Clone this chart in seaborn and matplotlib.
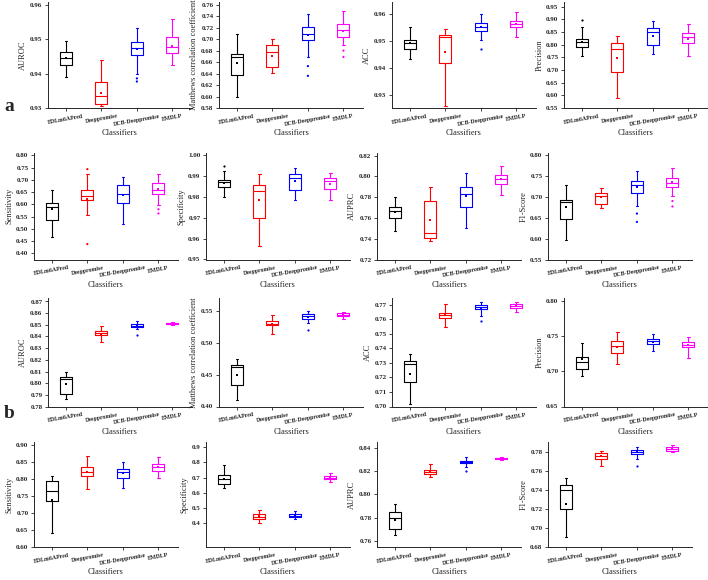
import matplotlib
matplotlib.use("Agg")
import matplotlib.pyplot as plt
from matplotlib.ticker import FormatStrFormatter
import numpy as np
import pandas as pd
import seaborn as sns

CLASSIFIERS = ["EDLm6APred", "Deeppromise", "DCB-Deeppromise", "EMDLP"]
COLORS = ["#000000", "#ff0000", "#0000ff", "#ff00ff"]

# each box: [lower whisker, Q1, median, Q3, upper whisker]
# ---- a ----
a_auroc = [[0.9390, 0.9424, 0.9446, 0.9462, 0.9496],
           [0.9307, 0.9312, 0.9336, 0.9375, 0.9440],
           [0.9398, 0.9455, 0.9474, 0.9492, 0.9532],
           [0.9426, 0.9460, 0.9477, 0.9505, 0.9558]]
a_auroc_mean = [0.9445, 0.9345, 0.9470, 0.9480]
a_auroc_out = [[], [], [0.9386, 0.9377], []]

a_mcc = [[0.599, 0.637, 0.668, 0.674, 0.709],
         [0.641, 0.652, 0.678, 0.689, 0.700],
         [0.669, 0.698, 0.709, 0.722, 0.744],
         [0.690, 0.704, 0.716, 0.726, 0.749]]
a_mcc_mean = [0.659, 0.670, 0.707, 0.714]
a_mcc_out = [[], [], [0.653, 0.636], [0.680, 0.669]]

a_acc = [[0.9433, 0.9473, 0.9495, 0.9506, 0.9554],
         [0.9259, 0.9420, 0.9516, 0.9523, 0.9545],
         [0.9504, 0.9538, 0.9554, 0.9569, 0.9601],
         [0.9517, 0.9552, 0.9563, 0.9576, 0.9609]]
a_acc_mean = [0.9495, 0.9460, 0.9552, 0.9563]
a_acc_out = [[], [], [0.9473], []]

a_prec = [[0.754, 0.791, 0.810, 0.822, 0.870],
          [0.588, 0.691, 0.783, 0.807, 0.835],
          [0.764, 0.800, 0.849, 0.866, 0.895],
          [0.757, 0.807, 0.829, 0.846, 0.882]]
a_prec_mean = [0.809, 0.747, 0.835, 0.824]
a_prec_out = [[0.896], [], [], []]

a_sens = [[0.465, 0.536, 0.590, 0.607, 0.660],
          [0.556, 0.617, 0.633, 0.660, 0.723],
          [0.518, 0.607, 0.644, 0.678, 0.712],
          [0.597, 0.644, 0.660, 0.689, 0.723]]
a_sens_mean = [0.583, 0.624, 0.640, 0.664]
a_sens_out = [[], [0.744, 0.438], [], [0.580, 0.563]]

a_spec = [[0.9798, 0.9847, 0.9869, 0.9879, 0.9926],
          [0.9563, 0.9697, 0.9827, 0.9855, 0.9910],
          [0.9787, 0.9831, 0.9890, 0.9908, 0.9937],
          [0.9787, 0.9838, 0.9874, 0.9890, 0.9916]]
a_spec_mean = [0.9866, 0.9787, 0.9877, 0.9863]
a_spec_out = [[0.9948], [], [], []]

a_auprc = [[0.7475, 0.7602, 0.7663, 0.7705, 0.7800],
           [0.7376, 0.7411, 0.7459, 0.7762, 0.7900],
           [0.7507, 0.7705, 0.7833, 0.7900, 0.8034],
           [0.7823, 0.7928, 0.7970, 0.8018, 0.8104]]
a_auprc_mean = [0.7657, 0.7580, 0.7807, 0.7970]
a_auprc_out = [[], [], [], []]

a_f1 = [[0.597, 0.646, 0.688, 0.693, 0.728],
        [0.674, 0.684, 0.701, 0.710, 0.722],
        [0.677, 0.710, 0.728, 0.738, 0.762],
        [0.701, 0.724, 0.734, 0.744, 0.768]]
a_f1_mean = [0.676, 0.700, 0.724, 0.736]
a_f1_out = [[], [], [0.660, 0.640], [0.690, 0.677]]

# ---- b ----
b_auroc = [[0.7866, 0.7906, 0.8034, 0.8049, 0.8100],
           [0.8349, 0.8409, 0.8429, 0.8443, 0.8486],
           [0.8463, 0.8480, 0.8494, 0.8509, 0.8529],
           [0.8500, 0.8506, 0.8511, 0.8517, 0.8526]]
b_auroc_mean = [0.7991, 0.8425, 0.8490, 0.8511]
b_auroc_out = [[], [], [0.8414], []]

b_mcc = [[0.410, 0.433, 0.462, 0.465, 0.475],
         [0.514, 0.527, 0.530, 0.534, 0.544],
         [0.531, 0.537, 0.542, 0.545, 0.550],
         [0.537, 0.542, 0.544, 0.546, 0.548]]
b_mcc_mean = [0.450, 0.530, 0.540, 0.544]
b_mcc_out = [[], [], [0.520], []]

b_acc = [[0.7018, 0.7168, 0.7294, 0.7317, 0.7363],
         [0.7551, 0.7608, 0.7629, 0.7643, 0.7705],
         [0.7624, 0.7670, 0.7684, 0.7698, 0.7723],
         [0.7654, 0.7677, 0.7693, 0.7705, 0.7723]]
b_acc_mean = [0.7225, 0.7628, 0.7682, 0.7692]
b_acc_out = [[], [], [0.7592], []]

b_prec = [[0.694, 0.704, 0.713, 0.721, 0.741],
          [0.711, 0.727, 0.737, 0.743, 0.757],
          [0.729, 0.739, 0.743, 0.746, 0.754],
          [0.720, 0.735, 0.738, 0.742, 0.750]]
b_prec_mean = [0.718, 0.735, 0.742, 0.738]
b_prec_out = [[], [], [], []]

b_sens = [[0.640, 0.735, 0.765, 0.795, 0.810],
          [0.770, 0.810, 0.820, 0.835, 0.870],
          [0.775, 0.805, 0.820, 0.830, 0.850],
          [0.805, 0.825, 0.835, 0.845, 0.865]]
b_sens_mean = [0.740, 0.822, 0.818, 0.836]
b_sens_out = [[], [], [], []]

b_spec = [[0.630, 0.660, 0.690, 0.720, 0.780],
          [0.400, 0.430, 0.440, 0.460, 0.490],
          [0.430, 0.440, 0.450, 0.460, 0.480],
          [0.670, 0.690, 0.700, 0.710, 0.730]]
b_spec_mean = [0.690, 0.445, 0.450, 0.700]
b_spec_out = [[], [], [], []]

b_auprc = [[0.765, 0.770, 0.780, 0.785, 0.792],
           [0.815, 0.818, 0.819, 0.821, 0.826],
           [0.824, 0.827, 0.828, 0.829, 0.832],
           [0.830, 0.8305, 0.831, 0.8315, 0.832]]
b_auprc_mean = [0.778, 0.819, 0.828, 0.831]
b_auprc_out = [[], [], [0.820], []]

b_f1 = [[0.690, 0.720, 0.740, 0.745, 0.752],
        [0.765, 0.772, 0.775, 0.778, 0.781],
        [0.772, 0.777, 0.780, 0.782, 0.785],
        [0.779, 0.781, 0.783, 0.785, 0.787]]
b_f1_mean = [0.725, 0.775, 0.779, 0.783]
b_f1_out = [[], [], [0.765], []]

sns.set_style("ticks")
plt.rcParams["font.family"] = ["Liberation Serif", "DejaVu Serif"]

W, H = 708, 580
fig = plt.figure(figsize=(W / 100, H / 100), dpi=100)

PAL = dict(zip(CLASSIFIERS, COLORS))


def long_frame(groups):
    rows = [(c, v) for c, vals in zip(CLASSIFIERS, groups) for v in vals]
    return pd.DataFrame(rows, columns=["clf", "val"])


def draw_panel(rect, boxes, means, outliers, ylabel, ylim, ticks, fmt):
    l, top, w, bot = rect
    ax = fig.add_axes([l / W, 1 - bot / H, w / W, (bot - top) / H])
    sns.boxplot(data=long_frame(boxes), x="clf", y="val", hue="clf",
                order=CLASSIFIERS, hue_order=CLASSIFIERS, palette=PAL,
                fill=False, whis=(0, 100), width=0.34, linewidth=0.8,
                showfliers=False, saturation=1, legend=False, ax=ax,
                capwidths=0.07)
    mean_df = pd.DataFrame({"clf": CLASSIFIERS, "val": means})
    sns.stripplot(data=mean_df, x="clf", y="val", hue="clf", order=CLASSIFIERS,
                  hue_order=CLASSIFIERS, palette=PAL, jitter=False, size=1.6,
                  marker="s", linewidth=0, legend=False, ax=ax)
    out_df = long_frame(outliers)
    if len(out_df):
        sns.stripplot(data=out_df, x="clf", y="val", hue="clf", order=CLASSIFIERS,
                      hue_order=CLASSIFIERS, palette=PAL, jitter=False, size=1.6,
                      linewidth=0, legend=False, ax=ax)
    ax.set_xlim(-0.5, 3.55)
    ax.set_ylim(*ylim)
    ax.set_yticks(ticks)
    ax.yaxis.set_major_formatter(FormatStrFormatter(fmt))
    ax.set_xticks(range(4))
    ax.set_xticklabels(CLASSIFIERS, rotation=10, fontsize=4.2, fontweight="bold")
    for t in ax.get_yticklabels():
        t.set_fontsize(5)
        t.set_fontweight("bold")
    ax.tick_params(axis="both", length=2.5, width=0.6, pad=1.5)
    ax.set_ylabel(ylabel, fontsize=6, labelpad=2)
    ax.set_xlabel("Classifiers", fontsize=6, labelpad=2)
    sns.despine(ax=ax)
    for s in ax.spines.values():
        s.set_linewidth(0.7)
    return ax


# rows: (top px, bottom px), column lefts in px
ROW1, ROW2, ROW3, ROW4 = (2, 108), (153, 259.5), (298, 406.5), (442, 547)
LEFT_A = [48, 219, 392, 564]
LEFT_B = [34, 206, 377, 548]
AW = 144

panels = [
    (LEFT_A[0], ROW1, a_auroc, a_auroc_mean, a_auroc_out, "AUROC", (0.93, 0.9608), np.arange(0.93, 0.9601, 0.01), "%.2f"),
    (LEFT_A[1], ROW1, a_mcc, a_mcc_mean, a_mcc_out, "Matthews correlation coefficient", (0.58, 0.7647), np.arange(0.58, 0.7601, 0.02), "%.2f"),
    (LEFT_A[2], ROW1, a_acc, a_acc_mean, a_acc_out, "ACC", (0.9252, 0.9646), np.arange(0.93, 0.9601, 0.01), "%.2f"),
    (LEFT_A[3], ROW1, a_prec, a_prec_mean, a_prec_out, "Precision", (0.55, 0.968), np.arange(0.55, 0.9501, 0.05), "%.2f"),
    (LEFT_B[0], ROW2, a_sens, a_sens_mean, a_sens_out, "Sensitivity", (0.375, 0.81), np.arange(0.40, 0.8001, 0.05), "%.2f"),
    (LEFT_B[1], ROW2, a_spec, a_spec_mean, a_spec_out, "Specificity", (0.95, 1.001), np.arange(0.95, 1.0001, 0.01), "%.2f"),
    (LEFT_B[2], ROW2, a_auprc, a_auprc_mean, a_auprc_out, "AUPRC", (0.72, 0.8225), np.arange(0.72, 0.8201, 0.02), "%.2f"),
    (LEFT_B[3], ROW2, a_f1, a_f1_mean, a_f1_out, "F1-Score", (0.55, 0.805), np.arange(0.55, 0.8001, 0.05), "%.2f"),
    (LEFT_A[0], ROW3, b_auroc, b_auroc_mean, b_auroc_out, "AUROC", (0.78, 0.873), np.arange(0.78, 0.8701, 0.01), "%.2f"),
    (LEFT_A[1], ROW3, b_mcc, b_mcc_mean, b_mcc_out, "Matthews correlation coefficient", (0.40, 0.570), np.arange(0.40, 0.5501, 0.05), "%.2f"),
    (LEFT_A[2], ROW3, b_acc, b_acc_mean, b_acc_out, "ACC", (0.70, 0.7748), np.arange(0.70, 0.7701, 0.01), "%.2f"),
    (LEFT_A[3], ROW3, b_prec, b_prec_mean, b_prec_out, "Precision", (0.65, 0.805), np.arange(0.65, 0.8001, 0.05), "%.2f"),
    (LEFT_B[0], ROW4, b_sens, b_sens_mean, b_sens_out, "Sensitivity", (0.60, 0.91), np.arange(0.60, 0.9001, 0.05), "%.2f"),
    (LEFT_B[1], ROW4, b_spec, b_spec_mean, b_spec_out, "Specificity", (0.245, 0.933), np.arange(0.4, 0.9001, 0.1), "%.1f"),
    (LEFT_B[2], ROW4, b_auprc, b_auprc_mean, b_auprc_out, "AUPRC", (0.755, 0.845), np.arange(0.76, 0.8401, 0.02), "%.2f"),
    (LEFT_B[3], ROW4, b_f1, b_f1_mean, b_f1_out, "F1-Score", (0.68, 0.79), np.arange(0.68, 0.7801, 0.02), "%.2f"),
]

for left, (top, bot), boxes, means, outs, lab, ylim, ticks, fmt in panels:
    draw_panel((left, top, AW, bot), boxes, means, outs, lab, ylim, ticks, fmt)

fig.text(4 / W, 1 - 111 / H, "a", fontsize=14, fontweight="bold")
fig.text(4 / W, 1 - 418 / H, "b", fontsize=14, fontweight="bold")

fig.savefig("out.png", dpi=100)
